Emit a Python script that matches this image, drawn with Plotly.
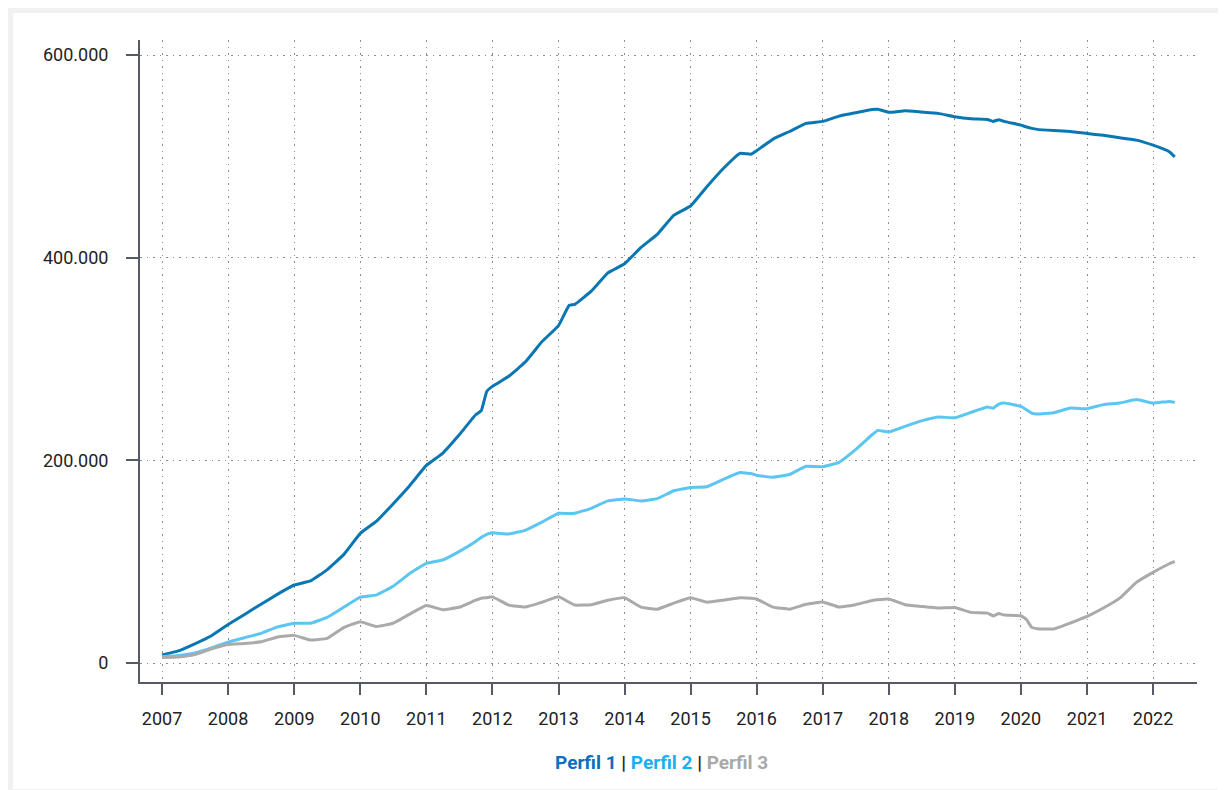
import plotly.graph_objects as go

# monthly dates (mostly quarterly samples) and values in thousands
dates = [
    "2007-01", "2007-04", "2007-07", "2007-10",
    "2008-01", "2008-04", "2008-07", "2008-10",
    "2009-01", "2009-04", "2009-07", "2009-10",
    "2010-01", "2010-04", "2010-07", "2010-10",
    "2011-01", "2011-04", "2011-07", "2011-10", "2011-11", "2011-12",
    "2012-01", "2012-04", "2012-07", "2012-10",
    "2013-01", "2013-03", "2013-04", "2013-07", "2013-10",
    "2014-01", "2014-04", "2014-07", "2014-10",
    "2015-01", "2015-04", "2015-07", "2015-10", "2015-12",
    "2016-01", "2016-04", "2016-07", "2016-10",
    "2017-01", "2017-04", "2017-07", "2017-10", "2017-11",
    "2018-01", "2018-04", "2018-07", "2018-10",
    "2019-01", "2019-04", "2019-07", "2019-08", "2019-09", "2019-10",
    "2020-01", "2020-02", "2020-03", "2020-04", "2020-07", "2020-10",
    "2021-01", "2021-04", "2021-07", "2021-10",
    "2022-01", "2022-04", "2022-05",
]

perfil1 = [
    8, 12, 19, 27,
    38, 48, 58, 68,
    77, 81, 92, 107,
    128, 140, 157, 175,
    195, 207, 225, 245, 249, 268,
    273, 283, 297, 317,
    333, 353, 354, 367, 385,
    394, 410, 423, 442,
    451, 470, 488, 503, 502,
    505.5, 517, 524.5, 532.5,
    534.5, 539.7, 543, 546.3, 546.5,
    543.4, 545, 543.7, 542.4,
    539, 537, 536.4, 534.5, 536.2, 534.5,
    530.8, 529, 527.6, 526.6, 525.5, 524.6,
    522.6, 520.7, 518.3, 516,
    511, 504.5, 499.5,
]

perfil2 = [
    6.5, 7.5, 10, 15,
    20.7, 25, 29.3, 35.7,
    39.3, 39.3, 45, 55,
    65, 67.3, 75.7, 88.3,
    98.3, 101.7, 110, 120, 124, 127,
    128.5, 127.3, 131, 139,
    147.8, 147.5, 147.8, 152.7, 160,
    162, 160, 162.3, 170,
    173.2, 174, 181.3, 188, 187,
    185.3, 183.3, 186, 194.2,
    193.8, 198, 210.5, 225.3, 229.6,
    228, 233.6, 239, 242.8,
    242, 247.4, 252.6, 251.5, 255.5, 256.6,
    253.3, 250, 246.7, 245.7, 247, 251.6,
    251, 255, 256.6, 260,
    256.6, 258.2, 257.2,
]

perfil3 = [
    5.5, 6, 8.3, 14,
    18.3, 19.3, 21, 25.7,
    27.3, 22.7, 24.3, 35,
    40.7, 36, 39.3, 48.3,
    56.7, 52.7, 55, 62, 64, 64.5,
    65.3, 57.2, 55.2, 60,
    65.3, 60, 57.2, 57.6, 62,
    64.5, 55.2, 53.2, 59.2,
    64.5, 60, 62, 64.5, 64,
    63.2, 55.2, 53.2, 58,
    60.3, 55.3, 57.6, 61.8, 62.5,
    63.2, 57.6, 55.9, 54.3,
    54.9, 50, 49.3, 46.5, 49, 47.4,
    46.7, 43, 35.2, 33.9, 33.6, 39.5,
    46, 54.3, 64.1, 79.6,
    89.5, 98, 100.3,
]

names = ["Perfil 1", "Perfil 2", "Perfil 3"]
line_colors = ["#0a77b3", "#5cc6f3", "#aaaaaa"]
label_colors = ["#0b6fc0", "#18b0ef", "#a9a9a9"]

fig = go.Figure()
for name, vals, col in zip(names, [perfil1, perfil2, perfil3], line_colors):
    fig.add_trace(go.Scatter(
        x=dates, y=[v * 1000 for v in vals], name=name, mode="lines",
        line=dict(color=col, width=3, shape="spline", smoothing=0.3),
        showlegend=False,
    ))

axis_col = "#555a64"
grid_col = "#8c8c8c"
fig.update_xaxes(
    type="date", range=["2006-09-01", "2022-09-01"],
    dtick="M12", tick0="2007-01-01", tickformat="%Y",
    showline=True, linecolor=axis_col, linewidth=2,
    ticks="outside", ticklen=11, tickwidth=2, tickcolor=axis_col,
    ticklabelstandoff=8,
    showgrid=True, gridcolor=grid_col, gridwidth=1, griddash="1.5px,5px",
    zeroline=False,
)
fig.update_yaxes(
    range=[-18700, 614800], tickvals=[0, 200000, 400000, 600000],
    tickformat=",d",
    showline=True, linecolor=axis_col, linewidth=2,
    ticks="outside", ticklen=12, tickwidth=2, tickcolor=axis_col,
    ticklabelstandoff=14,
    showgrid=True, gridcolor=grid_col, gridwidth=1, griddash="1.5px,5px",
    zeroline=False,
)

legend_html = " | ".join(
    f"<span style='color:{c}'>{n}</span>" for n, c in zip(names, label_colors)
)

# page sits 8px in from the window corner (body margin)
off = 8
W, H = 1226 - off, 790 - off
px_l, px_r, px_t, px_b = 140 - off, 1197 - off, 40 - off, 682 - off
pw, ph = px_r - px_l, px_b - px_t

# white card on light grey page
fig.add_shape(
    type="rect", xref="paper", yref="paper", layer="below",
    x0=(13 - off - px_l) / pw, x1=(1222 - off - px_l) / pw,
    y0=(px_b - (789 - off)) / ph, y1=(px_b - (13 - off)) / ph,
    fillcolor="white", line=dict(width=0),
)
fig.add_annotation(
    text=f"<b>{legend_html}</b>", xref="paper", yref="paper",
    x=(661 - off - px_l) / pw, y=(px_b - (762 - off)) / ph, showarrow=False,
    font=dict(size=19, color="#222222", family="Roboto"),
    xanchor="center", yanchor="middle",
)

fig.update_layout(
    width=W, height=H,
    margin=dict(l=px_l, r=W - px_r, t=px_t, b=H - px_b),
    paper_bgcolor="#f1f1f1", plot_bgcolor="white",
    separators=",.",
    font=dict(family="Roboto", size=18, color="#222222"),
)

fig.write_html("out.html")
